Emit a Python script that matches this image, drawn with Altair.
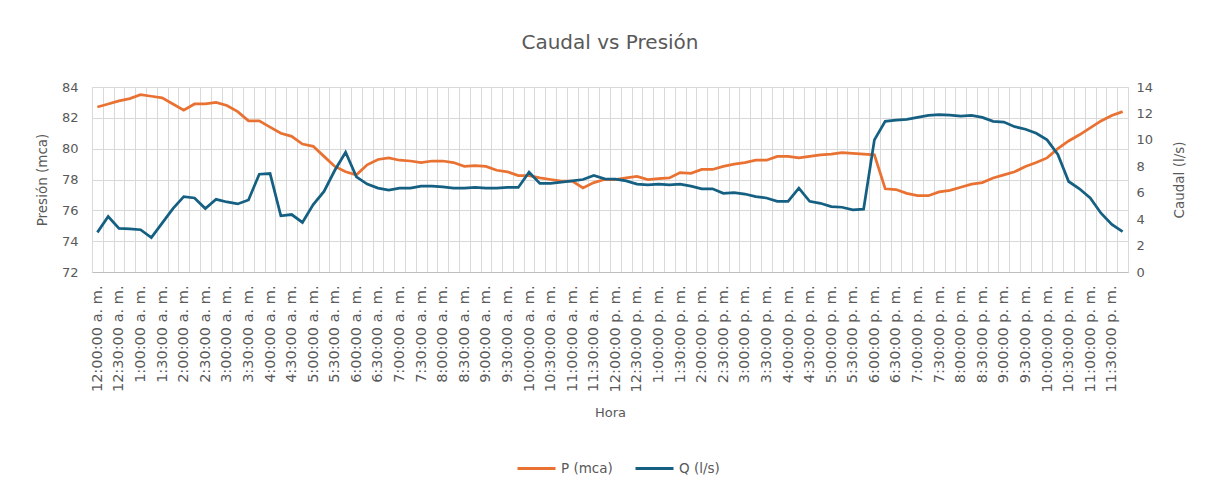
import altair as alt
import pandas as pd

hora = [
    "12:00:00 a. m.", "12:15:00 a. m.", "12:30:00 a. m.", "12:45:00 a. m.",
    "1:00:00 a. m.", "1:15:00 a. m.", "1:30:00 a. m.", "1:45:00 a. m.",
    "2:00:00 a. m.", "2:15:00 a. m.", "2:30:00 a. m.", "2:45:00 a. m.",
    "3:00:00 a. m.", "3:15:00 a. m.", "3:30:00 a. m.", "3:45:00 a. m.",
    "4:00:00 a. m.", "4:15:00 a. m.", "4:30:00 a. m.", "4:45:00 a. m.",
    "5:00:00 a. m.", "5:15:00 a. m.", "5:30:00 a. m.", "5:45:00 a. m.",
    "6:00:00 a. m.", "6:15:00 a. m.", "6:30:00 a. m.", "6:45:00 a. m.",
    "7:00:00 a. m.", "7:15:00 a. m.", "7:30:00 a. m.", "7:45:00 a. m.",
    "8:00:00 a. m.", "8:15:00 a. m.", "8:30:00 a. m.", "8:45:00 a. m.",
    "9:00:00 a. m.", "9:15:00 a. m.", "9:30:00 a. m.", "9:45:00 a. m.",
    "10:00:00 a. m.", "10:15:00 a. m.", "10:30:00 a. m.", "10:45:00 a. m.",
    "11:00:00 a. m.", "11:15:00 a. m.", "11:30:00 a. m.", "11:45:00 a. m.",
    "12:00:00 p. m.", "12:15:00 p. m.", "12:30:00 p. m.", "12:45:00 p. m.",
    "1:00:00 p. m.", "1:15:00 p. m.", "1:30:00 p. m.", "1:45:00 p. m.",
    "2:00:00 p. m.", "2:15:00 p. m.", "2:30:00 p. m.", "2:45:00 p. m.",
    "3:00:00 p. m.", "3:15:00 p. m.", "3:30:00 p. m.", "3:45:00 p. m.",
    "4:00:00 p. m.", "4:15:00 p. m.", "4:30:00 p. m.", "4:45:00 p. m.",
    "5:00:00 p. m.", "5:15:00 p. m.", "5:30:00 p. m.", "5:45:00 p. m.",
    "6:00:00 p. m.", "6:15:00 p. m.", "6:30:00 p. m.", "6:45:00 p. m.",
    "7:00:00 p. m.", "7:15:00 p. m.", "7:30:00 p. m.", "7:45:00 p. m.",
    "8:00:00 p. m.", "8:15:00 p. m.", "8:30:00 p. m.", "8:45:00 p. m.",
    "9:00:00 p. m.", "9:15:00 p. m.", "9:30:00 p. m.", "9:45:00 p. m.",
    "10:00:00 p. m.", "10:15:00 p. m.", "10:30:00 p. m.", "10:45:00 p. m.",
    "11:00:00 p. m.", "11:15:00 p. m.", "11:30:00 p. m.", "11:45:00 p. m.",
]

presion = [
    82.7, 82.9, 83.1, 83.25, 83.5, 83.4, 83.3, 82.9,
    82.5, 82.9, 82.9, 83.0, 82.8, 82.4, 81.8, 81.8,
    81.4, 81.0, 80.8, 80.3, 80.15, 79.5, 78.85, 78.5,
    78.3, 78.95, 79.3, 79.4, 79.25, 79.2, 79.1, 79.2,
    79.2, 79.1, 78.85, 78.9, 78.85, 78.6, 78.5, 78.25,
    78.25, 78.1, 78.0, 77.9, 77.9, 77.45, 77.8, 78.0,
    78.0, 78.1, 78.2, 78.0, 78.05, 78.1, 78.45, 78.4,
    78.65, 78.65, 78.85, 79.0, 79.1, 79.25, 79.25, 79.5,
    79.5, 79.4, 79.5, 79.6, 79.65, 79.75, 79.7, 79.65,
    79.6, 77.4, 77.35, 77.1, 76.95, 76.95, 77.2, 77.3,
    77.5, 77.7, 77.8, 78.1, 78.3, 78.5, 78.85, 79.1,
    79.4, 80.0, 80.5, 80.9, 81.35, 81.8, 82.15, 82.4,
]

caudal = [
    3.0, 4.2, 3.3, 3.27, 3.2, 2.6, 3.7, 4.8,
    5.7, 5.6, 4.8, 5.5, 5.3, 5.15, 5.45, 7.4,
    7.45, 4.25, 4.35, 3.75, 5.1, 6.1, 7.7, 9.06,
    7.2, 6.65, 6.35, 6.2, 6.35, 6.35, 6.5, 6.5,
    6.45, 6.35, 6.35, 6.4, 6.35, 6.35, 6.4, 6.4,
    7.55, 6.7, 6.7, 6.8, 6.9, 7.0, 7.3, 7.05,
    7.03, 6.9, 6.65, 6.6, 6.65, 6.6, 6.65, 6.5,
    6.3, 6.3, 5.95, 6.0, 5.9, 5.7, 5.6, 5.35,
    5.35, 6.35, 5.35, 5.2, 4.95, 4.9, 4.7, 4.75,
    10.0, 11.4, 11.5, 11.55, 11.7, 11.85, 11.9, 11.88,
    11.8, 11.85, 11.7, 11.4, 11.35, 11.0, 10.8, 10.5,
    10.0, 8.9, 6.85, 6.3, 5.6, 4.45, 3.6, 3.05,
]

series_names = ["P (mca)", "Q (l/s)"]
series_colors = ["#E97132", "#156082"]
p_ticks = [72, 74, 76, 78, 80, 82, 84]
q_ticks = [0, 2, 4, 6, 8, 10, 12, 14]

data = pd.concat([
    pd.DataFrame({"Hora": hora, "serie": series_names[0], "valor": presion}),
    pd.DataFrame({"Hora": hora, "serie": series_names[1], "valor": caudal}),
], ignore_index=True)

FONT = "DejaVu Sans"
TXT = "#595959"
GRID = "#D9D9D9"

x_enc = alt.X(
    "Hora:N",
    sort=hora,
    title="Hora",
    scale=alt.Scale(type="band", paddingInner=0, paddingOuter=0),
    axis=alt.Axis(
        labelAngle=-90,
        labelExpr="(indexof(datum.label, ':15:') >= 0 || indexof(datum.label, ':45:') >= 0) ? '' : datum.label",
        labelOverlap=False,
        tickBand="extent",
        grid=True,
        gridColor=GRID,
        gridWidth=1,
        ticks=False,
        domainColor="#BFBFBF",
        labelFont=FONT,
        labelFontSize=14.5,
        labelColor=TXT,
        labelPadding=13,
        titleFont=FONT,
        titleFontSize=13,
        titleFontWeight="normal",
        titleColor=TXT,
        titlePadding=15,
    ),
)

color_enc = alt.Color(
    "serie:N",
    scale=alt.Scale(domain=series_names, range=series_colors),
    legend=alt.Legend(
        orient="none",
        legendX=424,
        legendY=361,
        direction="horizontal",
        title=None,
        symbolType="stroke",
        symbolSize=1444,
        symbolStrokeWidth=3,
        labelFont=FONT,
        labelFontSize=13.5,
        labelColor=TXT,
        columnPadding=16,
        labelOffset=4,
    ),
)

p_line = alt.Chart(data).transform_filter(
    alt.datum.serie == series_names[0]
).mark_line(strokeWidth=2.75).encode(
    x=x_enc,
    y=alt.Y(
        "valor:Q",
        scale=alt.Scale(domain=[72, 84], nice=False, zero=False),
        axis=alt.Axis(
            values=p_ticks,
            title="Presión (mca)",
            grid=True,
            gridColor=GRID,
            domain=False,
            ticks=False,
            labelFont=FONT,
            labelFontSize=13,
            labelColor=TXT,
            labelPadding=14,
            titleFont=FONT,
            titleFontSize=13.5,
            titleFontWeight="normal",
            titleColor=TXT,
            titlePadding=12,
        ),
    ),
    color=color_enc,
)

q_line = alt.Chart(data).transform_filter(
    alt.datum.serie == series_names[1]
).mark_line(strokeWidth=2.75).encode(
    x=x_enc,
    y=alt.Y(
        "valor:Q",
        scale=alt.Scale(domain=[0, 14], nice=False),
        axis=alt.Axis(
            orient="right",
            values=q_ticks,
            title="Caudal (l/s)",
            titleAngle=-90,
            grid=False,
            domain=False,
            ticks=False,
            labelFont=FONT,
            labelFontSize=13,
            labelColor=TXT,
            labelPadding=8,
            titleFont=FONT,
            titleFontSize=13.5,
            titleFontWeight="normal",
            titleColor=TXT,
            titlePadding=34,
        ),
    ),
    color=color_enc,
)

chart = alt.layer(p_line, q_line).resolve_scale(
    y="independent"
).properties(
    width=1036,
    height=185,
    title=alt.TitleParams(
        "Caudal vs Presión",
        font=FONT,
        fontSize=20,
        fontWeight="normal",
        color=TXT,
        anchor="middle",
        offset=28,
    ),
    padding={"left": 27, "top": 25, "right": 10, "bottom": 10},
    background="white",
).configure_view(
    stroke=GRID,
    strokeWidth=1,
)

chart.save("out.html", embed_options={"renderer": "svg", "actions": False})
